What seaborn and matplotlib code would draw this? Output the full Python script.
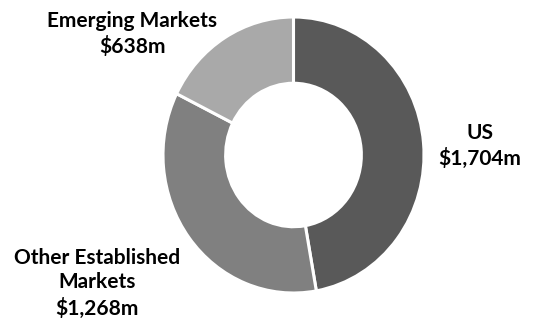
import matplotlib
matplotlib.use("Agg")
import matplotlib.pyplot as plt
import seaborn as sns

categories = ["US", "Other Established\nMarkets", "Emerging Markets"]
values = [1704, 1268, 638]
value_labels = ["$1,704m", "$1,268m", "$638m"]
colors = ["#595959", "#808080", "#a9a9a9"]

sns.set_theme(style="white")
plt.rcParams['font.family'] = ['Lato', 'DejaVu Sans']

W, H = 552, 323
fig = plt.figure(figsize=(W / 100, H / 100), dpi=100)
# donut bounding box in pixels
left, right, top, bottom = 163, 424, 17, 293
ax = fig.add_axes([left / W, (H - bottom) / H, (right - left) / W, (bottom - top) / H])
ax.pie(values, colors=colors, startangle=90, counterclock=False, radius=1,
       wedgeprops=dict(width=0.48, edgecolor="white", linewidth=2.2))
ax.set_xlim(-1, 1)
ax.set_ylim(-1, 1)
ax.set_aspect("auto")
ax.axis("off")

def ftext(x, y, s):
    fig.text(x / W, 1 - y / H, s, ha="center", va="center", fontsize=15,
             fontweight="bold", color="black", linespacing=1.3)

ftext(480, 146, categories[0] + "\n" + value_labels[0])
ftext(97, 283, categories[1] + "\n" + value_labels[1])
ftext(132, 34, categories[2] + "\n" + value_labels[2])

fig.savefig("out.png", dpi=100)
